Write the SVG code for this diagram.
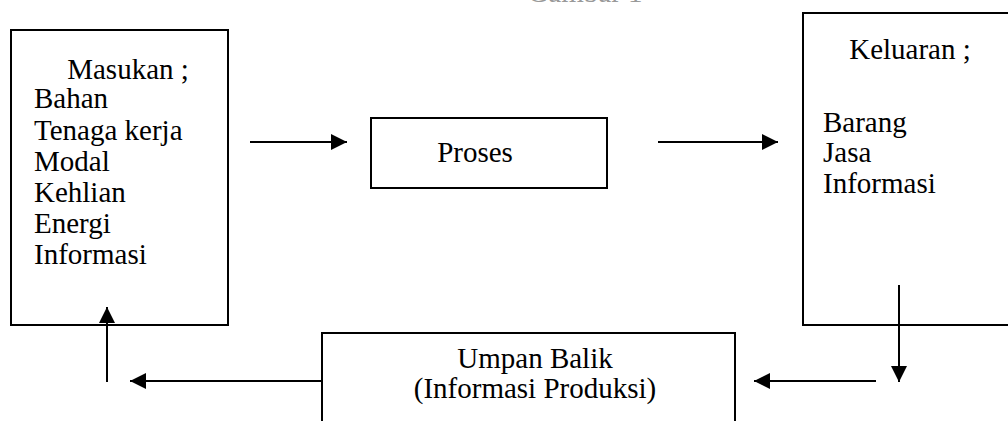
<svg xmlns="http://www.w3.org/2000/svg" width="1008" height="421" viewBox="0 0 1008 421">
<defs>
<style>
.box{fill:#fff;stroke:#000;stroke-width:2}
.t{font-family:"Liberation Serif","Times New Roman",serif;font-size:29px;fill:#000}
.c{text-anchor:middle}
.ln{stroke:#000;stroke-width:2;fill:none}
</style>
<marker id="ah" viewBox="0 0 16 16" refX="16" refY="8" markerWidth="16" markerHeight="16" markerUnits="userSpaceOnUse" orient="auto"><path d="M0,0 L16,8 L0,16 Z" fill="#000"/></marker>
</defs>
<rect width="1008" height="421" fill="#fff"/>
<text class="t c" x="585" y="2" style="fill:#999">Gambar 1</text>
<g id="masukan">
<rect class="box" x="11" y="30" width="217" height="295"/>
<text class="t c" x="128" y="79">Masukan ;</text>
<text class="t" x="34" y="108">Bahan</text>
<text class="t" x="34" y="140">Tenaga kerja</text>
<text class="t" x="34" y="171">Modal</text>
<text class="t" x="34" y="202">Kehlian</text>
<text class="t" x="34" y="233">Energi</text>
<text class="t" x="34" y="264">Informasi</text>
</g>
<g id="proses">
<rect class="box" x="371" y="118" width="236" height="70"/>
<text class="t c" x="475" y="162">Proses</text>
</g>
<g id="keluaran">
<rect class="box" x="803" y="13" width="220" height="312"/>
<text class="t c" x="910" y="59">Keluaran ;</text>
<text class="t" x="823" y="132">Barang</text>
<text class="t" x="823" y="162">Jasa</text>
<text class="t" x="823" y="193">Informasi</text>
</g>
<g id="umpan-balik">
<rect class="box" x="322" y="333" width="413" height="100"/>
<text class="t c" x="535" y="368">Umpan Balik</text>
<text class="t c" x="535" y="398">(Informasi Produksi)</text>
</g>
<g id="connectors">
<line class="ln" x1="250" y1="142" x2="347" y2="142" marker-end="url(#ah)"/>
<line class="ln" x1="658" y1="142" x2="778" y2="142" marker-end="url(#ah)"/>
<line class="ln" x1="899" y1="285" x2="899" y2="382" marker-end="url(#ah)"/>
<line class="ln" x1="876" y1="381" x2="754" y2="381" marker-end="url(#ah)"/>
<line class="ln" x1="322" y1="381" x2="130" y2="381" marker-end="url(#ah)"/>
<line class="ln" x1="107" y1="382" x2="107" y2="307" marker-end="url(#ah)"/>
</g>
</svg>
